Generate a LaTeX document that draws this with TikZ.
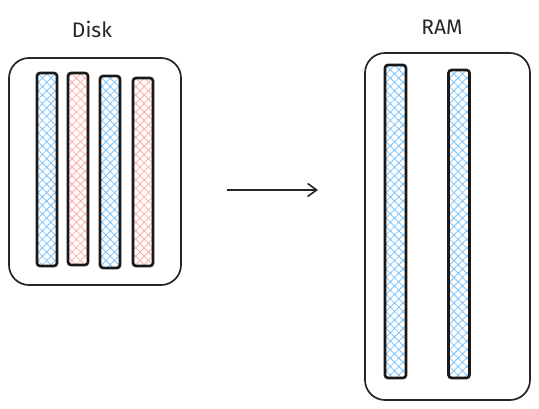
\documentclass[tikz,border=0pt]{standalone}
\usepackage{fontspec}
\setmainfont{Fira Sans}
\usetikzlibrary{patterns.meta,arrows.meta}
\definecolor{hblue}{HTML}{7EC0F5}
\definecolor{hred}{HTML}{FFA8A8}
\tikzset{
  box/.style={draw=black!85, line width=1.7pt, rounded corners=20pt, inner sep=0pt},
  bluehatch/.style={pattern={Lines[angle=45,distance=6pt,line width=0.8pt]}, pattern color=hblue,
     preaction={pattern={Lines[angle=-45,distance=6pt,line width=0.8pt]}, pattern color=hblue}},
  redhatch/.style={pattern={Lines[angle=45,distance=6pt,line width=0.8pt]}, pattern color=hred,
     preaction={pattern={Lines[angle=-45,distance=6pt,line width=0.8pt]}, pattern color=hred}},
  stripbox/.style={draw=black!90, line width=2.6pt, rounded corners=3pt, inner sep=0pt, minimum width=#1},
  lbl/.style={font=\fontsize{21}{24}\selectfont, text=black!85},
  arr/.style={draw=black!85, line width=1.6pt, -{Straight Barb[length=9pt,width=13pt]}}
}
\begin{document}
\begin{tikzpicture}[x=1pt,y=-1pt]
\useasboundingbox (0,0) rectangle (539,409);
% Disk
\node[lbl] (disklbl) at (92,29) {Disk};
\node[box, minimum width=172pt, minimum height=227pt] (disk) at (95,171.5) {};
\foreach \n/\x/\y/\h/\c in {1/47/169.5/193/bluehatch, 2/78/169/192/redhatch, 3/110/172/192/bluehatch, 4/143/172/188/redhatch}{
  \node[stripbox=20pt, minimum height=\h pt, \c] (d\n) at (\x,\y) {};
}
% RAM
\node[lbl] (ramlbl) at (442,27) {RAM};
\node[box, minimum width=165pt, minimum height=347pt] (ram) at (447.5,226.5) {};
\foreach \n/\x/\y/\h in {1/395.5/221.5/313, 2/459/224/308}{
  \node[stripbox=21pt, minimum height=\h pt, bluehatch] (r\n) at (\x,\y) {};
}
% arrow
\coordinate (a1) at (227,190);
\coordinate (a2) at (318,190);
\draw[arr] (a1) -- (a2);
\end{tikzpicture}
\end{document}
